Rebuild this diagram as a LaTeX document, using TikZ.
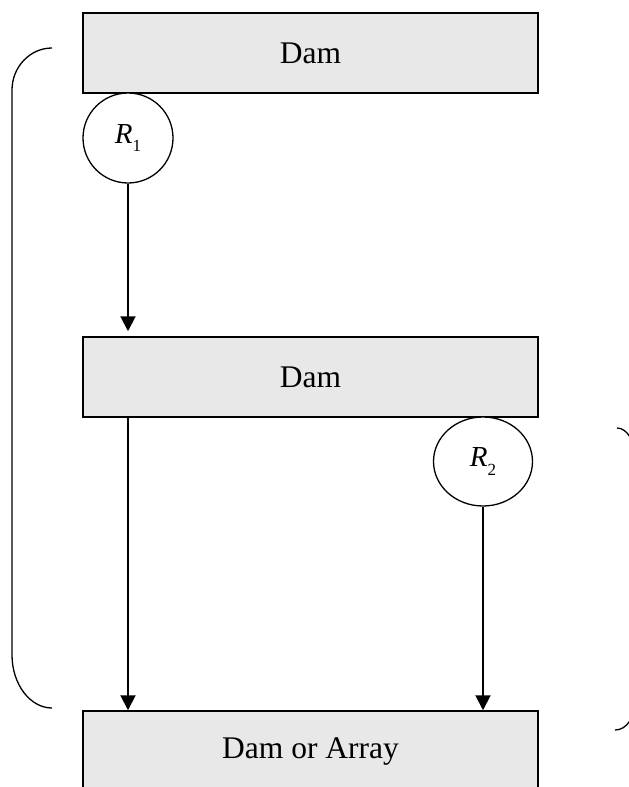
\documentclass[tikz,border=0pt]{standalone}
\usepackage{fontspec}
\setmainfont{Liberation Serif}
\usetikzlibrary{arrows.meta,shapes.geometric}

\newcommand{\resname}[1]{R\raisebox{-0.3em}{\upshape\fontsize{17}{17}\selectfont #1}}

\begin{document}
\begin{tikzpicture}[x=1pt,y=-1pt,
        damnode/.style={draw,line width=1.5pt,fill=black!9,minimum width=455pt,minimum height=80pt,inner sep=0pt,font=\fontsize{31.5}{36}\selectfont},
        resnode/.style={ellipse,draw,line width=1.3pt,fill=white,inner sep=0pt,font=\fontsize{29}{32}\selectfont\itshape},
        flow/.style={line width=2pt,-{Triangle[width=15pt,length=15pt]}}]
        \useasboundingbox (0,0) rectangle (629,787);

        \node[damnode] (damA) at (310.5,53) {Dam};
        \node[damnode] (damB) at (310.5,377) {Dam};
        \node[damnode] (damC) at (310.5,751) {Dam or Array};

        \node[resnode,minimum width=90pt,minimum height=90pt] (resA) at (128,138) {\resname{1}};
        \node[resnode,minimum width=99pt,minimum height=89pt] (resB) at (483,461.5) {\resname{2}};

        \draw[flow] (resA.south) -- ([yshift=5pt]resA.south |- damB.north);
        \draw[flow] (damB.south -| resA.south) -- (damC.north -| resA.south);
        \draw[flow] (resB.south) -- (damC.north -| resB.south);

        % braces
        \draw[line width=1.3pt] (52,48) .. controls (30,48) and (12,67) .. (12,90)
            -- (12,655) .. controls (12,684) and (30,708) .. (52,708);
        \draw[line width=1.3pt] (617,428) .. controls (627,428) and (635,441) .. (635,458)
            -- (635,700) .. controls (635,717) and (627,730) .. (615,730);
    \end{tikzpicture}
\end{document}
